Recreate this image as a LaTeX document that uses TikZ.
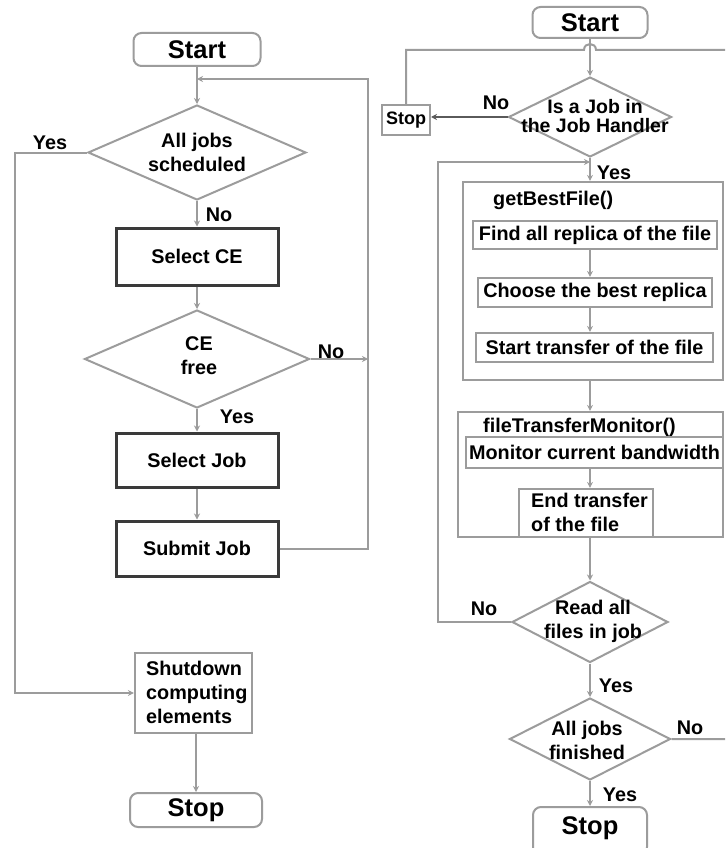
\documentclass[tikz,border=0pt]{standalone}
\usepackage{fontspec}
\setmainfont{Liberation Sans}
\usetikzlibrary{shapes.geometric,arrows.meta}
\definecolor{linegray}{HTML}{9C9C9C}
\definecolor{boxdark}{HTML}{3A3A3A}
\definecolor{wiredark}{HTML}{5A5A5A}
\begin{document}
\begin{tikzpicture}[x=1pt,y=-1pt,
  every node/.style={font=\fontsize{19.8}{24}\selectfont\bfseries, inner sep=0pt, text=black},
  line/.style={draw=linegray, line width=2pt},
  arr/.style={line, -{Stealth[length=6pt,width=6pt]}},
  thickbox/.style={draw=boxdark, line width=3pt, minimum width=162pt},
  thinbox/.style={draw=linegray, line width=2.2pt},
  termbox/.style={draw=linegray, line width=2pt, rounded corners=8pt,
    font=\fontsize{25.5}{28}\selectfont\bfseries},
  decision/.style={diamond, draw=linegray, line width=2pt},
  tag/.style={anchor=center},
]
\useasboundingbox (0,0) rectangle (725,848);
\fill[white] (0,0) rectangle (725,848);
\clip (0,0) rectangle (725,848);

% ---------------- scheduler flow (left) ----------------
\node[termbox, minimum width=127pt, minimum height=33pt] (startL) at (197,49.5) {Start};
\node[decision, minimum width=218pt, minimum height=95pt] (alljobs) at (197,152.5) {};
\node[align=center] (alljobsT) at (197,152) {All jobs\\scheduled};
\node[thickbox, minimum height=57pt] (selCE) at (197,256.5) {Select CE};
\node[decision, minimum width=225pt, minimum height=98pt] (cefree) at (197,359) {};
\node[align=center] (cefreeT) at (199,356) {CE\\free};
\node[thickbox, minimum height=54pt] (selJob) at (197,460) {Select Job};
\node[thickbox, minimum height=55pt] (submit) at (197,548.5) {Submit Job};
\node[thinbox, minimum width=117pt, minimum height=80pt] (shutdown) at (193.5,693) {};
\node[align=left, anchor=west] (shutdownT) at (146,692) {Shutdown\\computing\\elements};
\node[termbox, minimum width=132pt, minimum height=34pt] (stopL) at (196,810) {Stop};

\coordinate (loopTop) at (368,79);
\coordinate (yesLeft) at (15,152.5);

\draw[arr] (startL.south) -- (alljobs.north);
\draw[arr] (alljobs.south) -- (selCE.north);
\draw[arr] (selCE.south) -- (cefree.north);
\draw[arr] (cefree.south) -- (selJob.north);
\draw[arr] (selJob.south) -- (submit.north);
\draw[arr] (submit.east) -| (loopTop) -- (197,79);
\draw[arr] (cefree.east) -- (cefree.east -| loopTop);
\draw[arr] (alljobs.west) -- (yesLeft) |- (shutdown.west);
\draw[arr] (shutdown.south -| stopL.north) -- (stopL.north);

\node[tag] (yesA) at (50,143) {Yes};
\node[tag] (noA) at (219,215) {No};
\node[tag] (noB) at (331,352) {No};
\node[tag] (yesB) at (237,417) {Yes};

% ---------------- file transfer flow (right) ----------------
\node[termbox, minimum width=115pt, minimum height=31pt] (startR) at (590,22.5) {Start};
\node[decision, minimum width=163pt, minimum height=80pt] (isjob) at (590,117) {};
\node[align=center, font=\fontsize{19.5}{18.5}\selectfont\bfseries] (isjobT) at (595,116) {Is a Job in\\the Job Handler};
\node[draw=linegray, line width=2pt, minimum width=48pt, minimum height=30pt,
  font=\fontsize{18}{20}\selectfont\bfseries] (stopS) at (406,120) {Stop};

\node[thinbox, minimum width=260pt, minimum height=198pt] (getbest) at (593,281) {};
\node[anchor=west] (getbestT) at (493,200) {getBestFile()};
\node[thinbox, minimum width=244pt, minimum height=28pt] (find) at (595,235) {Find all replica of the file};
\node[thinbox, minimum width=234pt, minimum height=29pt] (choose) at (595,292.5) {Choose the best replica};
\node[thinbox, minimum width=237pt, minimum height=29pt] (starttr) at (594.5,347.5) {Start transfer of the file};

\node[thinbox, minimum width=265pt, minimum height=125pt] (ftm) at (590.5,474.5) {};
\node[anchor=west] (ftmT) at (483,427) {fileTransferMonitor()};
\node[thinbox, minimum width=257pt, minimum height=31pt] (monitor) at (594.5,452.5) {Monitor current bandwidth};
\node[thinbox, minimum width=134pt, minimum height=48pt] (endtr) at (586,513) {};
\node[align=left, anchor=west] (endtrT) at (531,512) {End transfer\\of the file};

\node[decision, minimum width=156pt, minimum height=81pt] (readall) at (590,622) {};
\node[align=center] (readallT) at (593,621) {Read all\\files in job};
\node[decision, minimum width=161pt, minimum height=82pt] (jobsfin) at (590,739) {};
\node[align=center] (jobsfinT) at (587,740) {All jobs\\finished};
\node[termbox, minimum width=114pt, minimum height=48pt] (stopR) at (590,831) {};
\node (stopRT) at (590,828) {\fontsize{25.5}{28}\selectfont Stop};

\coordinate (backLeft) at (438,162);
\coordinate (outerRight) at (740,50);

\draw[arr] (startR.south) -- (isjob.north);
\draw[draw=wiredark, line width=2.4pt, -{Stealth[length=6pt,width=6pt]}] (isjob.west) -- (isjob.west -| stopS.east);
\draw[arr] (isjob.south) -- (isjob.south |- getbest.north);
\draw[arr] (find.south -| isjob.south) -- (choose.north -| isjob.south);
\draw[arr] (choose.south -| isjob.south) -- (starttr.north -| isjob.south);
\draw[arr] (getbest.south -| isjob.south) -- (ftm.north -| isjob.south);
\draw[arr] (monitor.south -| isjob.south) -- (endtr.north -| isjob.south);
\draw[arr] (ftm.south -| isjob.south) -- (readall.north);
\draw[arr] (readall.south) -- (jobsfin.north);
\draw[arr] (jobsfin.south) -- (stopR.north);
\draw[arr] (readall.west) -| (backLeft) -- (backLeft -| isjob.south);
% outer return loop, hopping over the start line
\draw[line] (jobsfin.east) -| (outerRight) -- (596,50)
  .. controls (596,42) and (584,42) .. (584,50) -| (stopS.north);

\node[tag] (noC) at (496,103) {No};
\node[tag] (yesC) at (614,173) {Yes};
\node[tag] (noD) at (484,609) {No};
\node[tag] (yesD) at (616,686) {Yes};
\node[tag] (noE) at (690,728) {No};
\node[tag] (yesE) at (620,795) {Yes};
\end{tikzpicture}
\end{document}
